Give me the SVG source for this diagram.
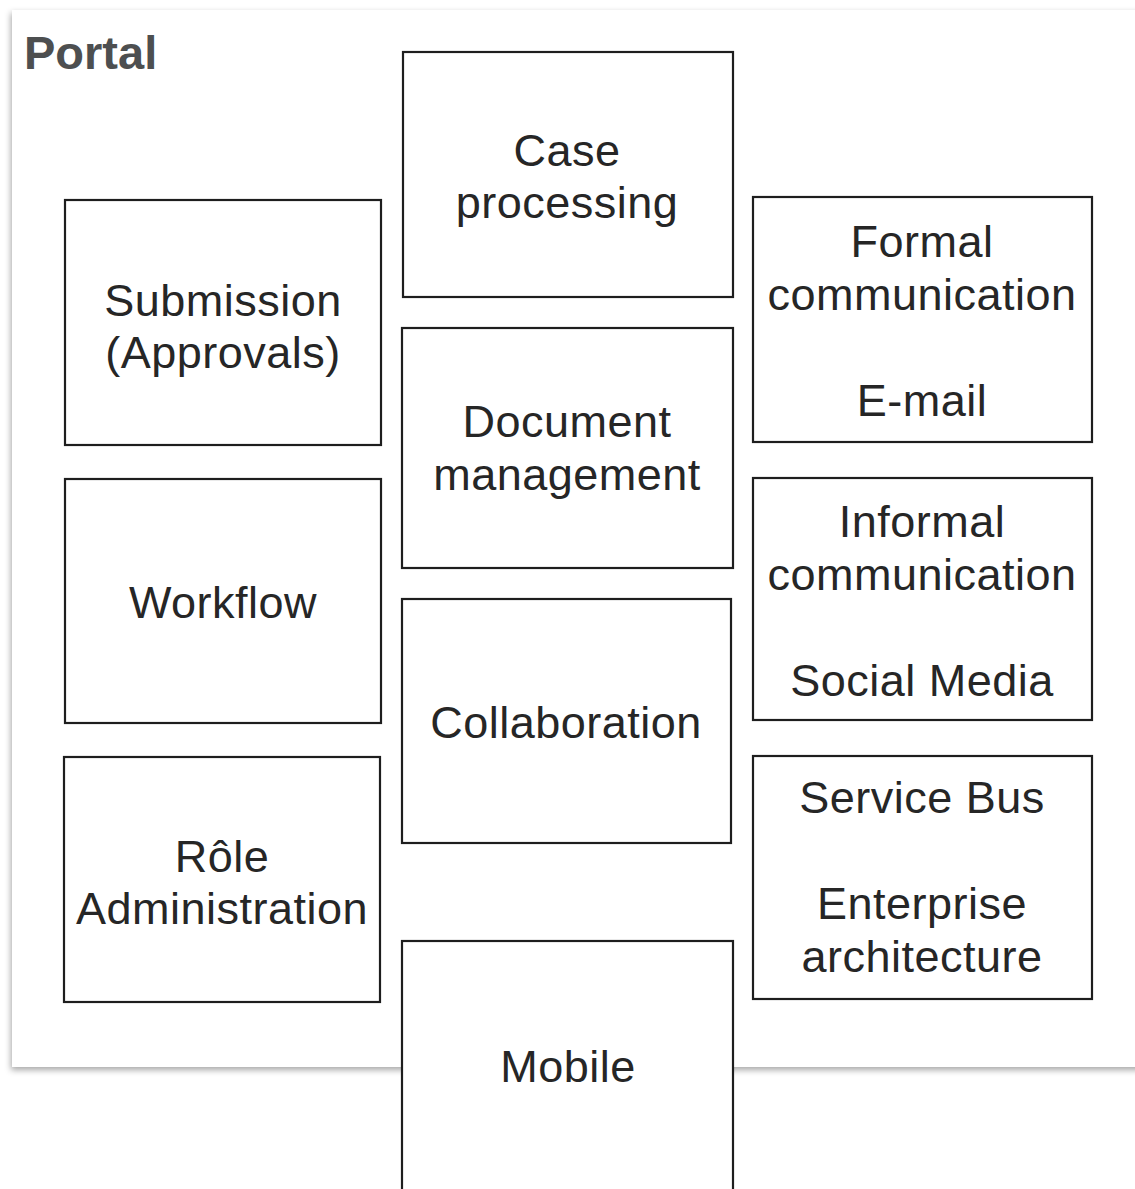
<svg xmlns="http://www.w3.org/2000/svg" width="1135" height="1189" viewBox="0 0 1135 1189">
  <defs>
    <filter id="shadow" x="-5%" y="-5%" width="110%" height="110%">
      <feDropShadow dx="-1" dy="3" stdDeviation="3" flood-color="#000" flood-opacity="0.35"/>
    </filter>
  </defs>
  <style>
    .box { fill: #fff; stroke: #1e1e1e; stroke-width: 2.2; }
    .lbl { font-family: "Liberation Sans", Arial, sans-serif; font-size: 45px; letter-spacing: 0.5px; fill: #262626; text-anchor: middle; }
    .title { font-family: "Liberation Sans", Arial, sans-serif; font-size: 47px; font-weight: bold; fill: #4d4f50; }
  </style>
  <rect width="1135" height="1189" fill="#fff"/>
  <g id="portal">
    <rect x="12" y="10" width="1140" height="1057" fill="#fff" filter="url(#shadow)"/>
    <text class="title" x="24" y="69">Portal</text>
  </g>
  <g id="case-processing">
    <rect class="box" x="403" y="52" width="330" height="245"/>
    <text class="lbl" x="567" y="166">Case</text>
    <text class="lbl" x="567" y="218">processing</text>
  </g>
  <g id="submission">
    <rect class="box" x="65" y="200" width="316" height="245"/>
    <text class="lbl" x="223" y="316">Submission</text>
    <text class="lbl" x="223" y="368">(Approvals)</text>
  </g>
  <g id="formal-communication">
    <rect class="box" x="753" y="197" width="339" height="245"/>
    <text class="lbl" x="922" y="257">Formal</text>
    <text class="lbl" x="922" y="310">communication</text>
    <text class="lbl" x="922" y="416">E-mail</text>
  </g>
  <g id="document-management">
    <rect class="box" x="402" y="328" width="331" height="240"/>
    <text class="lbl" x="567" y="437">Document</text>
    <text class="lbl" x="567" y="490">management</text>
  </g>
  <g id="workflow">
    <rect class="box" x="65" y="479" width="316" height="244"/>
    <text class="lbl" x="223" y="618">Workflow</text>
  </g>
  <g id="informal-communication">
    <rect class="box" x="753" y="478" width="339" height="242"/>
    <text class="lbl" x="922" y="537">Informal</text>
    <text class="lbl" x="922" y="590">communication</text>
    <text class="lbl" x="922" y="696">Social Media</text>
  </g>
  <g id="collaboration">
    <rect class="box" x="402" y="599" width="329" height="244"/>
    <text class="lbl" x="566" y="738">Collaboration</text>
  </g>
  <g id="service-bus">
    <rect class="box" x="753" y="756" width="339" height="243"/>
    <text class="lbl" x="922" y="813">Service Bus</text>
    <text class="lbl" x="922" y="919">Enterprise</text>
    <text class="lbl" x="922" y="972">architecture</text>
  </g>
  <g id="role-administration">
    <rect class="box" x="64" y="757" width="316" height="245"/>
    <text class="lbl" x="222" y="872">Rôle</text>
    <text class="lbl" x="222" y="924">Administration</text>
  </g>
  <g id="mobile">
    <rect class="box" x="402" y="941" width="331" height="260"/>
    <text class="lbl" x="568" y="1082">Mobile</text>
  </g>
  <g id="connectors"/>
</svg>
